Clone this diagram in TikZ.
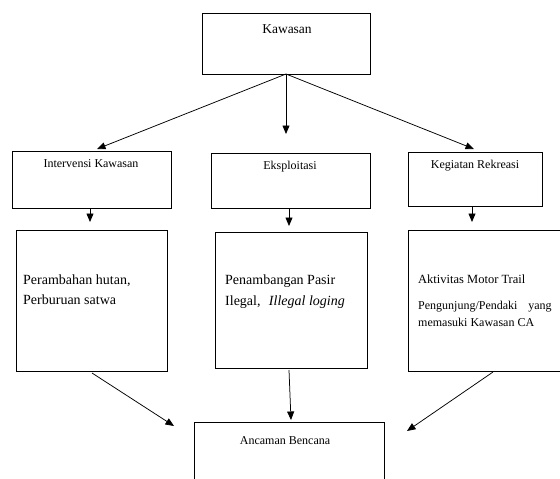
\documentclass[tikz,border=0pt]{standalone}
\usepackage{fontspec}
\setmainfont{Liberation Serif}
\usetikzlibrary{arrows.meta}
\begin{document}
\begin{tikzpicture}[x=1pt,y=-1pt,
  box/.style={draw, line width=0.75pt, anchor=north west, inner sep=0pt},
  arr/.style={line width=0.75pt, -{Triangle[length=8.5pt,width=7pt]}},
  lbl/.style={anchor=base west, inner sep=0pt, font=\fontsize{12}{14}\selectfont},
  big/.style={anchor=base west, inner sep=0pt, font=\fontsize{14}{16}\selectfont},
]
\useasboundingbox (0,0) rectangle (560,479);
\clip (0,0) rectangle (560,479);
% boxes
\node[box, minimum width=168pt, minimum height=61pt] (kaw) at (202,13) {};
\node[box, minimum width=159pt, minimum height=57pt] (int) at (12,151) {};
\node[box, minimum width=159pt, minimum height=55pt] (eks) at (211,153) {};
\node[box, minimum width=134pt, minimum height=54pt] (keg) at (408,152) {};
\node[box, minimum width=151pt, minimum height=141pt] (per) at (16,230) {};
\node[box, minimum width=152pt, minimum height=136pt] (pen) at (215,232) {};
\node[box, minimum width=170pt, minimum height=141pt] (akt) at (408,230) {};
\node[box, minimum width=190pt, minimum height=80pt] (anc) at (194,422) {};
% texts
\node[lbl, anchor=base, font=\fontsize{13.5}{15}\selectfont] (tkaw) at (287,33) {Kawasan};
\node[lbl, anchor=base] (tint) at (91,167) {Intervensi Kawasan};
\node[lbl, anchor=base] (teks) at (290,169) {Eksploitasi};
\node[lbl, anchor=base] (tkeg) at (475,168) {Kegiatan Rekreasi};
\node[big] (tper1) at (23,284) {Perambahan hutan,};
\node[big] (tper2) at (23,304) {Perburuan satwa};
\node[big] (tpen1) at (225,284) {Penambangan Pasir};
\node[big] (tpen2) at (225,305) {Ilegal,\hspace{0.6em}\textit{Illegal loging}};
\node[lbl, font=\fontsize{12.5}{14}\selectfont] (takt1) at (418,283) {Aktivitas Motor Trail};
\node[lbl] (takt2) at (418,309) {Pengunjung/Pendaki\hspace{0.9em}yang};
\node[lbl] (takt3) at (418,326) {memasuki Kawasan CA};
\node[lbl, anchor=base] (tanc) at (285,444) {Ancaman Bencana};
% connector coordinates
\coordinate (k0) at (286,74);
\coordinate (k1) at (97,149);
\coordinate (k2) at (286,134);
\coordinate (k3) at (474,149);
\coordinate (i0) at (90,208);
\coordinate (i1) at (90,222);
\coordinate (e0) at (289,208);
\coordinate (e1) at (289,226);
\coordinate (g0) at (472,206);
\coordinate (g1) at (472,222);
\coordinate (p0) at (92,373);
\coordinate (p1) at (174,426);
\coordinate (q0) at (289,370);
\coordinate (q1) at (291,420);
\coordinate (r0) at (493,372);
\coordinate (r1) at (407,431);
% connectors
\draw[arr] (k0) -- (k1);
\draw[arr] (k0) -- (k2);
\draw[arr] (k0) -- (k3);
\draw[arr] (i0) -- (i1);
\draw[arr] (e0) -- (e1);
\draw[arr] (g0) -- (g1);
\draw[arr] (p0) -- (p1);
\draw[arr] (q0) -- (q1);
\draw[arr] (r0) -- (r1);
\end{tikzpicture}
\end{document}
